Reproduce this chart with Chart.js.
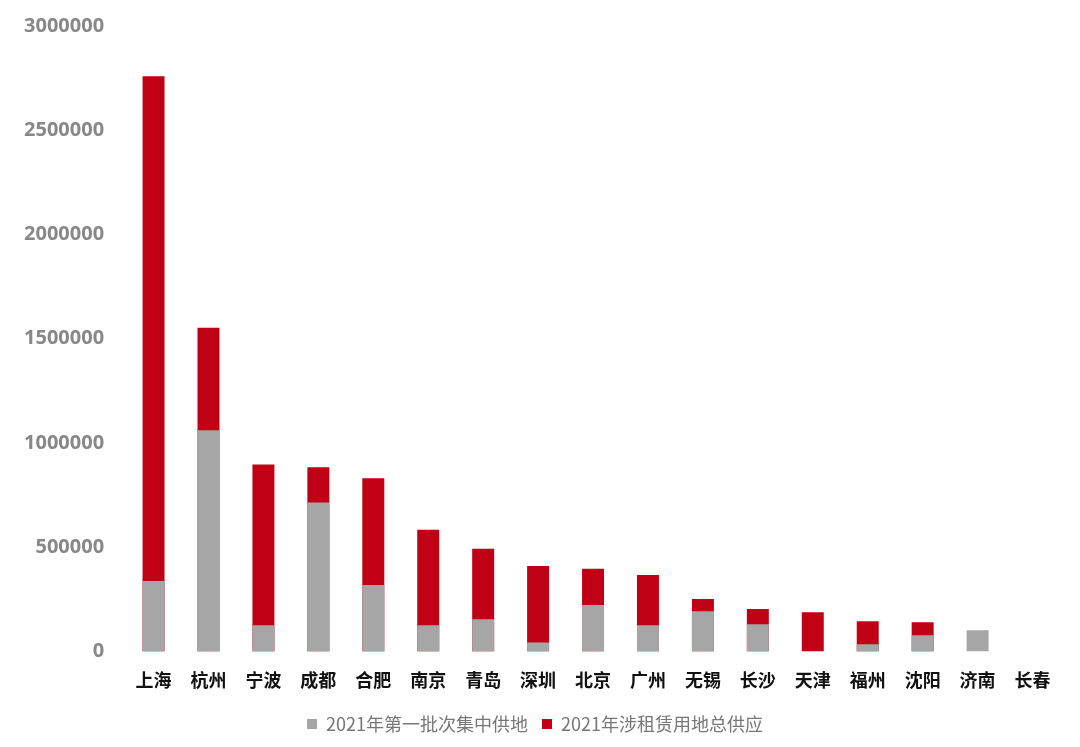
<!DOCTYPE html>
<html><head><meta charset="utf-8">
<script src="https://cdn.jsdelivr.net/npm/chart.js@4"></script>
<style>body{margin:0;background:#fff}#w{width:1080px;height:747px}</style>
</head><body><div id="w"><canvas id="c"></canvas></div>
<script>
const categories=["上海","杭州","宁波","成都","合肥","南京","青岛","深圳","北京","广州","无锡","长沙","天津","福州","沈阳","济南","长春"];
const firstBatch=[338000,1061000,125000,714000,318000,125000,154000,43000,222000,125000,193000,130000,0,34000,77000,101000,0];
const rentalTotal=[2759000,1553000,897000,883000,830000,584000,492000,410000,396000,367000,251000,203000,188000,145000,140000,0,0];
const yTicks=[0,500000,1000000,1500000,2000000,2500000,3000000];
new Chart(document.getElementById('c'),{type:'bar',
data:{labels:categories,datasets:[
{label:'2021年第一批次集中供地',data:firstBatch,backgroundColor:'#a6a6a6',order:1,barPercentage:0.8,categoryPercentage:0.5},
{label:'2021年涉租赁用地总供应',data:rentalTotal,backgroundColor:'#c00014',order:2,barPercentage:0.8,categoryPercentage:0.5}]},
options:{responsive:true,maintainAspectRatio:false,animation:false,
layout:{padding:{top:14,right:20,left:10,bottom:4}},
plugins:{legend:{position:'bottom',labels:{boxWidth:10,boxHeight:10,color:'#777',font:{size:18,family:'Noto Sans CJK SC'},padding:14}},tooltip:{enabled:false}},
scales:{x:{stacked:true,grid:{display:false},border:{display:false},ticks:{color:'#111',padding:10,font:{size:18,weight:'bold',family:'Noto Sans CJK SC'}}},
y:{stacked:false,min:0,max:3000000,afterBuildTicks:a=>{a.ticks=yTicks.map(v=>({value:v}))},grid:{display:false},border:{display:false},
ticks:{color:'#888',padding:14,callback:v=>String(v),font:{size:20,weight:'bold',family:'Noto Sans'}}}}}});
</script></body></html>
